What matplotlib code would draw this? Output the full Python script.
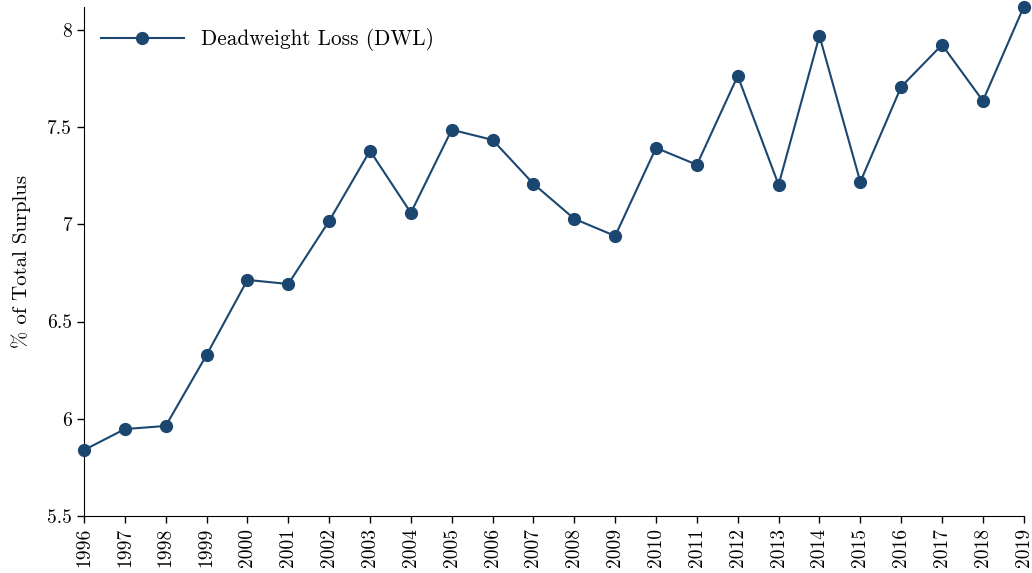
import matplotlib
matplotlib.use("Agg")
import matplotlib.pyplot as plt
from matplotlib.ticker import FuncFormatter

plt.rcParams["font.family"] = "serif"
plt.rcParams["font.serif"] = ["cmr10"]
plt.rcParams["axes.formatter.use_mathtext"] = True
plt.rcParams["mathtext.fontset"] = "cm"

anios = list(range(1996, 2020))
dwl = [5.839, 5.947, 5.963, 6.328, 6.714, 6.693, 7.017, 7.378, 7.059, 7.486,
       7.434, 7.208, 7.028, 6.940, 7.393, 7.306, 7.763, 7.203, 7.969, 7.218,
       7.707, 7.923, 7.635, 8.118]
y_ticks = [5.5, 6, 6.5, 7, 7.5, 8]

color = "#1a4670"

fig = plt.figure(figsize=(10.32, 5.73), dpi=100)
ax = fig.add_axes([0.0814, 0.0995, 0.9106, 0.8885])

ax.plot(anios, dwl, color=color, lw=1.5, marker="o", markersize=8.5,
        label="Deadweight Loss (DWL)", clip_on=False, zorder=3)

ax.set_xlim(1996, 2019)
ax.set_ylim(5.5, 8.118)
ax.set_xticks(anios)
ax.set_xticklabels([str(a) for a in anios], rotation=90)
ax.set_yticks(y_ticks)
ax.yaxis.set_major_formatter(FuncFormatter(lambda v, p: "%g" % v))
ax.tick_params(labelsize=14, length=5, width=1)
ax.set_ylabel("% of Total Surplus", fontsize=15, labelpad=12)

for s in ["top", "right"]:
    ax.spines[s].set_visible(False)

ax.legend(loc="upper left", frameon=False, fontsize=15.3, handlelength=3.9,
          bbox_to_anchor=(0.0, 0.992), borderaxespad=0.4)

fig.savefig("out.png", dpi=100)
